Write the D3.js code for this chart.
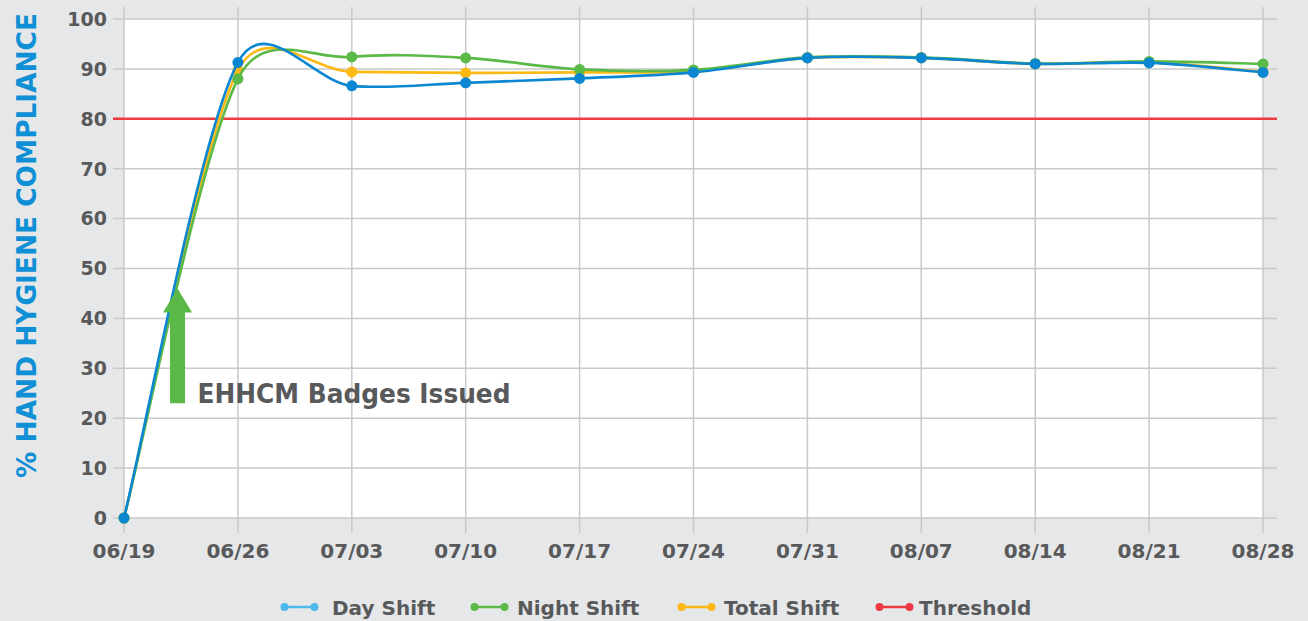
<!DOCTYPE html>
<html><head><meta charset="utf-8">
<script src="https://cdn.jsdelivr.net/npm/d3@7"></script>
<style>
html,body{margin:0;padding:0;background:#e6e7e8;}
svg{display:block;}
text{font-family:"DejaVu Sans",sans-serif;font-weight:bold;}
</style></head>
<body>
<svg id="chart" width="1308" height="621"></svg>
<script>
// ---- data ----
const dates = ["06/19","06/26","07/03","07/10","07/17","07/24","07/31","08/07","08/14","08/21","08/28"];
const dayShift   = [0, 91.3, 86.6, 87.2, 88.1, 89.3, 92.2, 92.2, 91.0, 91.2, 89.3];
const nightShift = [0, 88.0, 92.4, 92.2, 89.9, 89.8, 92.3, 92.3, 91.1, 91.5, 91.0];
const totalShift = [0, 89.7, 89.4, 89.2, 89.3, 89.6, 92.2, 92.2, 91.0, 91.3, 89.4];
const thresholdValue = 80;
const yTicks = [0,10,20,30,40,50,60,70,80,90,100];
const seriesNames = ["Day Shift","Night Shift","Total Shift","Threshold"];
const annotationText = "EHHCM Badges Issued";
const yTitle = "% HAND HYGIENE COMPLIANCE";

// ---- layout / style ----
const W = 1308, H = 621;
const plot = {left:124, right:1263, top:19, bottom:518};
const overhang = {x:11, xr:14, y:12, yb:15};
const colors = {day:"#0b87d1", night:"#5bb947", total:"#fdb913", thr:"#ee3a43",
  dayLegend:"#4db8ea", text:"#58595b", title:"#0f90d6", grid:"#c8c9ca", bg:"#e6e7e8"};

const svg = d3.select("#chart");
const x = d3.scalePoint().domain(dates).range([plot.left, plot.right]);
const y = d3.scaleLinear().domain([0,100]).range([plot.bottom, plot.top]);

// Excel-like smoothed line curve
function ExcelSmooth(context){ this._context = context; }
ExcelSmooth.prototype = {
  areaStart(){}, areaEnd(){},
  lineStart(){ this._pts = []; },
  point(px,py){ this._pts.push([+px,+py]); },
  lineEnd(){
    const p = this._pts, c = this._context, n = p.length;
    if(!n) return;
    const dist = (a,b)=>Math.hypot(b[0]-a[0], b[1]-a[1]);
    c.moveTo(p[0][0], p[0][1]);
    for(let i=0;i<n-1;i++){
      const p0=p[Math.max(i-1,0)], p1=p[i], p2=p[i+1], p3=p[Math.min(i+2,n-1)];
      const d12=dist(p1,p2), d02=dist(p0,p2), d13=dist(p1,p3);
      let f0=1/6, f1=1/6;
      if(d02/6 >= d12/2 && d02>0) f0 = d12/(2*d02);
      if(d13/6 >= d12/2 && d13>0) f1 = d12/(2*d13);
      c.bezierCurveTo(
        p1[0]+(p2[0]-p0[0])*f0, p1[1]+(p2[1]-p0[1])*f0,
        p2[0]-(p3[0]-p1[0])*f1, p2[1]-(p3[1]-p1[1])*f1,
        p2[0], p2[1]);
    }
  }
};
const curveExcel = ctx => new ExcelSmooth(ctx);

// plot background
svg.append("rect").attr("x",plot.left).attr("y",plot.top)
  .attr("width",plot.right-plot.left).attr("height",plot.bottom-plot.top).attr("fill","#ffffff");

// gridlines
const g = svg.append("g");
g.selectAll(".hg").data(yTicks).join("line")
  .attr("x1",plot.left-overhang.x).attr("x2",plot.right+overhang.xr)
  .attr("y1",d=>y(d)).attr("y2",d=>y(d))
  .attr("stroke",colors.grid).attr("stroke-width",1.5);
g.selectAll(".vg").data(dates).join("line")
  .attr("x1",d=>x(d)).attr("x2",d=>x(d))
  .attr("y1",plot.top-overhang.y).attr("y2",plot.bottom+overhang.yb)
  .attr("stroke",colors.grid).attr("stroke-width",1.5);

// axes labels
svg.selectAll(".yl").data(yTicks).join("text")
  .attr("x",plot.left-17).attr("y",d=>y(d)).attr("dy","0.36em")
  .attr("text-anchor","end").attr("font-size",19).attr("fill",colors.text)
  .text(d=>d);
svg.selectAll(".xl").data(dates).join("text")
  .attr("x",d=>x(d)).attr("y",558)
  .attr("text-anchor","middle").attr("font-size",20).attr("fill",colors.text)
  .text(d=>d);

// y title
svg.append("text")
  .attr("transform",`translate(36,${(13+478)/2}) rotate(-90)`)
  .attr("text-anchor","middle").attr("font-size",27).attr("fill",colors.title)
  .attr("textLength",465).attr("lengthAdjust","spacingAndGlyphs")
  .text(yTitle);

// threshold
svg.append("line")
  .attr("x1",plot.left-overhang.x).attr("x2",plot.right+overhang.xr)
  .attr("y1",y(thresholdValue)).attr("y2",y(thresholdValue))
  .attr("stroke",colors.thr).attr("stroke-width",2.5);

// series
const line = d3.line().x((d,i)=>x(dates[i])).y(d=>y(d)).curve(curveExcel);
const series = [
  {vals:totalShift, color:colors.total},
  {vals:nightShift, color:colors.night},
  {vals:dayShift, color:colors.day}
];
series.forEach(s=>{
  svg.append("path").datum(s.vals).attr("d",line)
    .attr("fill","none").attr("stroke",s.color).attr("stroke-width",2.6);
  svg.append("g").selectAll("circle").data(s.vals).join("circle")
    .attr("cx",(d,i)=>x(dates[i])).attr("cy",d=>y(d)).attr("r",5.5)
    .attr("fill",s.color);
});

// annotation arrow
const ax = x(dates[0]) + 0.47*x.step();
const arrowTop = 46, arrowBase = 41.2, arrowBottom = 23;
const ann = svg.append("g").attr("fill","#5ab946");
ann.append("rect").attr("x",ax-7.5).attr("width",15)
  .attr("y",y(arrowBase)-1).attr("height",y(arrowBottom)-y(arrowBase)+1);
ann.append("path").attr("d",`M${ax-14.5},${y(arrowBase)}L${ax+14.5},${y(arrowBase)}L${ax},${y(arrowTop)}Z`);
svg.append("text").attr("x",ax+20).attr("y",y(arrowBottom))
  .attr("font-size",27).attr("fill",colors.text)
  .attr("textLength",313).attr("lengthAdjust","spacingAndGlyphs")
  .text(annotationText);

// legend
const legendColors = [colors.dayLegend, colors.night, colors.total, colors.thr];
const legendMarkerX = [281, 471, 678, 876];
const legendTextX = [332, 517, 724, 919];
const legendY = 607;
const lg = svg.append("g");
seriesNames.forEach((name,i)=>{
  const mx = legendMarkerX[i], mw = 37;
  lg.append("line").attr("x1",mx+3).attr("x2",mx+mw-3).attr("y1",legendY).attr("y2",legendY)
    .attr("stroke",legendColors[i]).attr("stroke-width",2.5);
  [mx+3.5, mx+mw-3.5].forEach(cx=>lg.append("circle").attr("cx",cx).attr("cy",legendY).attr("r",4).attr("fill",legendColors[i]));
  lg.append("text").attr("x",legendTextX[i]).attr("y",615).attr("font-size",20)
    .attr("fill",colors.text).text(name);
});
</script>
</body></html>
